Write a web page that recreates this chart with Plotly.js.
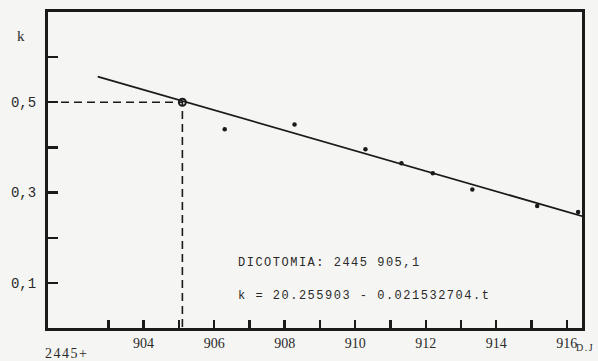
<!DOCTYPE html>
<html>
<head>
<meta charset="utf-8">
<script src="https://cdn.plot.ly/plotly-3.0.1.min.js"></script>
<style>
  html, body { margin: 0; padding: 0; background: #f5f5f3; }
  #chart { width: 598px; height: 361px; }
  .annotation-text { letter-spacing: 1.5px; }
</style>
</head>
<body>
<div id="chart"></div>
<script>
// Observations (Julian date - 2445000, k)
const obsT = [906.3, 908.28, 910.29, 911.31, 912.2, 913.32, 915.16, 916.32];
const obsK = [0.440, 0.451, 0.396, 0.365, 0.343, 0.307, 0.270, 0.257];

// Fitted line end points
const fitT = [902.7, 916.87];
const fitK = [0.557, 0.238];

// Dichotomy point
const dicoT = 905.1;
const dicoK = 0.5;

// Axes
const xRange = [901.29, 916.43];
const yRange = [0, 0.70];
const xTickVals = [903, 904, 905, 906, 907, 908, 909, 910, 911, 912, 913, 914, 915, 916];
const xTickText = ['', '904', '', '906', '', '908', '', '910', '', '912', '', '914', '', '916'];
const yTickVals = [0.1, 0.2, 0.3, 0.4, 0.5, 0.6];
const yTickText = ['0,1', '', '0,3', '', '0,5', ''];

const ink = '#1a1a1a';

const traces = [
  {
    x: [xRange[0], dicoT, dicoT],
    y: [dicoK, dicoK, yRange[0]],
    mode: 'lines',
    line: { color: ink, width: 1.6, dash: '8px,5px' },
    hoverinfo: 'skip'
  },
  {
    x: fitT,
    y: fitK,
    mode: 'lines',
    line: { color: ink, width: 1.8 }
  },
  {
    x: obsT,
    y: obsK,
    mode: 'markers',
    marker: { color: ink, size: 4.5 }
  },
  {
    x: [dicoT],
    y: [dicoK],
    mode: 'markers',
    marker: { color: 'rgba(0,0,0,0)', size: 7, line: { color: ink, width: 2 } }
  }
];

const layout = {
  width: 598,
  height: 361,
  margin: { l: 48, r: 16, t: 12, b: 33 },
  paper_bgcolor: '#f5f5f3',
  plot_bgcolor: '#f5f5f3',
  showlegend: false,
  font: { family: 'Liberation Mono, monospace', color: '#2a2a2a', size: 13 },
  xaxis: {
    range: xRange,
    tickmode: 'array',
    tickvals: xTickVals,
    ticktext: xTickText,
    ticks: 'inside',
    ticklen: 8,
    tickwidth: 2.4,
    tickcolor: ink,
    showgrid: false,
    zeroline: false,
    showline: true,
    linecolor: ink,
    linewidth: 3,
    mirror: true,
    ticklabelstandoff: 0,
    tickfont: { family: 'Liberation Serif, serif', size: 14, color: '#2a2a2a' }
  },
  yaxis: {
    range: yRange,
    tickmode: 'array',
    tickvals: yTickVals,
    ticktext: yTickText,
    ticks: 'inside',
    ticklen: 10,
    tickwidth: 2.4,
    tickcolor: ink,
    showgrid: false,
    zeroline: false,
    showline: true,
    linecolor: ink,
    linewidth: 3,
    mirror: true,
    ticklabelstandoff: 6,
    tickfont: { family: 'Liberation Mono, monospace', size: 14, color: '#2a2a2a' }
  },
  annotations: [
    {
      xref: 'paper', yref: 'paper', x: 0.352, y: 0.205,
      xanchor: 'left', yanchor: 'middle', align: 'left', showarrow: false,
      text: 'DICOTOMIA: 2445 905,1',
      font: { family: 'Liberation Mono, monospace', size: 12, color: '#2a2a2a' }
    },
    {
      xref: 'paper', yref: 'paper', x: 0.352, y: 0.1,
      xanchor: 'left', yanchor: 'middle', align: 'left', showarrow: false,
      text: 'k = 20.255903 - 0.021532704.t',
      font: { family: 'Liberation Mono, monospace', size: 12, color: '#2a2a2a' }
    },
    {
      xref: 'paper', yref: 'paper', x: -0.049, y: 0.924,
      xanchor: 'center', yanchor: 'middle', showarrow: false,
      text: 'k',
      font: { family: 'Liberation Serif, serif', size: 15, color: '#2a2a2a' }
    },
    {
      xref: 'paper', yref: 'paper', x: 0.034, y: -0.082,
      xanchor: 'center', yanchor: 'middle', showarrow: false,
      text: '2445+',
      font: { family: 'Liberation Serif, serif', size: 14, color: '#2a2a2a' }
    },
    {
      xref: 'paper', yref: 'paper', x: 1.005, y: -0.062,
      xanchor: 'center', yanchor: 'middle', showarrow: false,
      text: 'D.J',
      font: { family: 'Liberation Serif, serif', size: 10, color: '#2a2a2a' }
    }
  ]
};

Plotly.newPlot('chart', traces, layout, { staticPlot: true, displayModeBar: false });
</script>
</body>
</html>
